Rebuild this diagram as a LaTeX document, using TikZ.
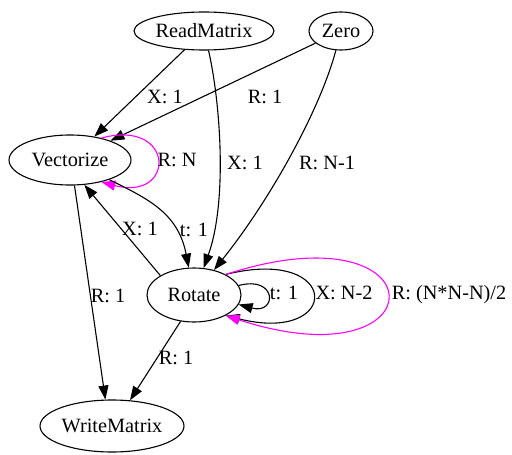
\documentclass[tikz,border=0pt]{standalone}
\usepackage{fontspec}
\setmainfont{Liberation Serif}
\usetikzlibrary{arrows.meta,shapes.geometric}
\definecolor{gvmag}{RGB}{255,0,255}
\begin{document}
\begin{tikzpicture}[x=1pt,y=-1pt,
  st/.style={draw,ellipse,inner sep=0pt,line width=1.1pt,font=\fontsize{20.3}{24}\selectfont,text height=13.4pt,text depth=0pt},
  lbl/.style={inner sep=0pt,font=\fontsize{20.3}{24}\selectfont,text height=13.4pt,text depth=0pt},
  arr/.style={line width=1.1pt,-{Triangle[length=14pt,width=10pt]}},
  mag/.style={line width=1.1pt,draw=gvmag,-{Triangle[length=14pt,width=10pt,fill=gvmag]}}]
\useasboundingbox (0,0) rectangle (512,455);
\node[st,minimum width=140pt,minimum height=38pt] (rm) at (204,31) {ReadMatrix};
\node[st,minimum width=64pt,minimum height=38pt] (zero) at (341,31) {Zero};
\node[st,minimum width=122pt,minimum height=50pt] (vec) at (70,160) {Vectorize};
\node[st,minimum width=94pt,minimum height=54pt] (rot) at (194,295) {Rotate};
\node[st,minimum width=144pt,minimum height=52pt] (wm) at (112,426) {WriteMatrix};
\draw[arr] (rm) -- (vec);
\draw[arr] (zero) -- (vec);
\draw[arr] (rm) .. controls (220,100) and (228,200) .. (rot);
\draw[arr] (zero) .. controls (320,110) and (270,200) .. (rot);
\draw[mag] (vec.35) to[out=15,in=-15,distance=77pt] (vec.-35);
\draw[arr] (vec) .. controls (146,198) and (178,212) .. (rot);
\draw[arr] (rot.150) -- (vec.-60);
\draw[arr] (vec.-80) -- (wm.104);
\draw[arr] (rot.-117) -- (wm.55);
\draw[arr] (rot.12) to[out=15,in=-15,distance=40pt] (rot.-12);
\draw[arr] (rot.33) to[out=14,in=-14,distance=120pt] (rot.-33);
\draw[mag] (rot.33) to[out=18,in=-18,distance=227pt] (rot.-33);
\node[lbl] (l1) at (165,97) {X: 1};
\node[lbl] (l2) at (265,97) {R: 1};
\node[lbl] (l3) at (177,160) {R: N};
\node[lbl] (l4) at (245,163) {X: 1};
\node[lbl] (l5) at (327,163) {R: N-1};
\node[lbl] (l6) at (140,229) {X: 1};
\node[lbl] (l7) at (194,230) {t: 1};
\node[lbl] (l8) at (108,296) {R: 1};
\node[lbl] (l9) at (176,358) {R: 1};
\node[lbl] (l10) at (284,293) {t: 1};
\node[lbl] (l11) at (344,293) {X: N-2};
\node[lbl] (l12) at (449,293) {R: (N*N-N)/2};
\end{tikzpicture}
\end{document}
